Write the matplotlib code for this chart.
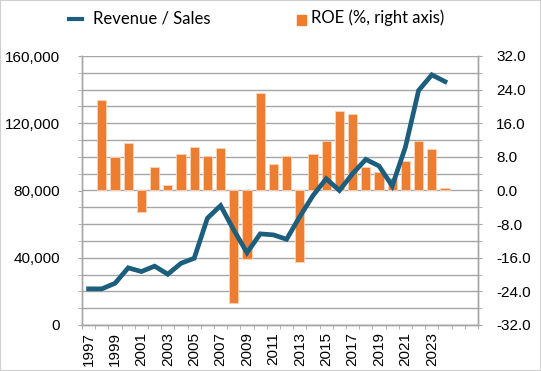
import numpy as np
import matplotlib.pyplot as plt
from matplotlib.ticker import FuncFormatter, MultipleLocator
from matplotlib.patches import Rectangle

# data
years = list(range(1997, 2025))
revenue = [21500, 21500, 24800, 34000, 31800, 35000, 30200, 36700, 39700, 63500,
           71000, 56500, 43000, 54200, 53600, 51000, 64500, 77000, 87000, 80000,
           90000, 98500, 94600, 82700, 105800, 139500, 148800, 144800]
roe = [np.nan, 21.5, 7.9, 11.3, -5.1, 5.5, 1.2, 8.8, 10.4, 8.2,
       10.1, -26.8, -16.4, 23.1, 6.3, 8.3, -17.1, 8.6, 11.8, 19.0,
       18.1, 5.5, 4.4, 3.0, 7.0, 11.8, 9.8, 0.5]
label_years = list(range(1997, 2024, 2))

plt.rcParams['font.family'] = ['Liberation Sans', 'DejaVu Sans']
grid_c = '#a6a6a6'
line_c = '#1b5e7e'
bar_c = '#ed7d31'

fig = plt.figure(figsize=(5.41, 3.71), dpi=100)
ax = fig.add_axes([82/541, 1-325/371, 396/541, 269/371])
ax2 = ax.twinx()

# bars on right axis
ax2.bar(years, roe, width=0.7, color=bar_c, edgecolor='#fbd3b8', linewidth=0.6, zorder=2)
ax2.set_ylim(-32, 32)
ax2.yaxis.set_major_locator(MultipleLocator(8))
ax2.yaxis.set_minor_locator(MultipleLocator(4))
ax2.yaxis.set_major_formatter(FuncFormatter(lambda v, p: f'{v:.1f}'))
ax2.grid(True, which='both', axis='y', color=grid_c, linewidth=1.0, zorder=0)
ax2.set_axisbelow(True)

# line on left axis, drawn above bars
ax.set_zorder(ax2.get_zorder() + 1)
ax.patch.set_visible(False)
ax.plot(years, revenue, color=line_c, linewidth=3.4, solid_joinstyle='miter', zorder=3)
ax.set_ylim(0, 160000)
ax.yaxis.set_major_locator(MultipleLocator(40000))
ax.yaxis.set_minor_locator(MultipleLocator(10000))
ax.yaxis.set_major_formatter(FuncFormatter(lambda v, p: f'{int(v):,}'))

ax.set_xlim(1996.5, 2026.5)
ax.set_xticks(label_years)
ax.set_xticklabels([str(y) for y in label_years], rotation=90)
ax.set_xticks(np.arange(1996.5, 2027, 1), minor=True)
ax.tick_params(axis='x', which='major', length=0, pad=5, labelsize=11)
ax.tick_params(axis='x', which='minor', length=3, color=grid_c)
ax.tick_params(axis='y', which='both', length=3, color=grid_c, labelsize=11, pad=13)
ax2.tick_params(axis='y', which='both', length=3, color=grid_c, labelsize=11, pad=10)

for a in (ax, ax2):
    a.spines['top'].set_visible(False)
    for s in ('left', 'right', 'bottom'):
        a.spines[s].set_color(grid_c)
        a.spines[s].set_linewidth(1.0)

# legend drawn as in the reference
fig.text(93/541, 1-18/371, 'Revenue / Sales', family=['Lato', 'DejaVu Sans'], fontsize=12, va='center')
fig.add_artist(plt.Line2D([69/541, 82/541], [1-19/371, 1-19/371], color=line_c, linewidth=3))
fig.add_artist(Rectangle((297/541, 1-25/371), 9/541, 10/371, color=bar_c))
fig.text(311/541, 1-18/371, 'ROE (%, right axis)', family=['Lato', 'DejaVu Sans'], fontsize=12, va='center')

# thin border around the figure
fig.add_artist(Rectangle((0, 0), 1, 1, fill=False, edgecolor='#d0d0d0', linewidth=1.5, transform=fig.transFigure))

fig.savefig('out.png', dpi=100)
